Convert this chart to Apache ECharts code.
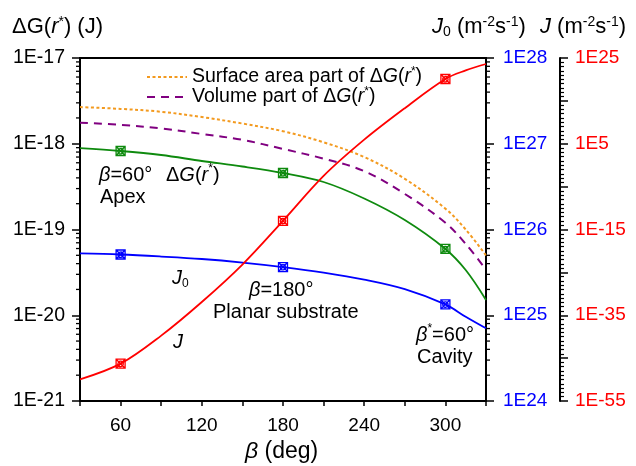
<!DOCTYPE html>
<html><head><meta charset="utf-8">
<script src="https://cdn.jsdelivr.net/npm/echarts@6/dist/echarts.min.js"></script>
<style>html,body{margin:0;padding:0;background:#fff}#c{width:636px;height:466px}</style>
</head><body><div id="c"></div>
<script>
// ---- data ----
const beta      = [30, 60, 90, 120, 150, 180, 210, 240, 270, 300, 315, 330];
const dG        = [8.87e-19, 8.23e-19, 7.39e-19, 6.29e-19, 5.43e-19, 4.56e-19, 3.58e-19, 2.30e-19, 1.29e-19, 5.93e-20, 3.37e-20, 1.51e-20];
const dGSurface = [2.68e-18, 2.55e-18, 2.36e-18, 2.05e-18, 1.72e-18, 1.40e-18, 1.04e-18, 7.0e-19, 3.9e-19, 1.75e-19, 1.0e-19, 5.0e-20];
const dGVolume  = [1.76e-18, 1.66e-18, 1.51e-18, 1.30e-18, 1.11e-18, 8.7e-19, 6.7e-19, 4.8e-19, 2.6e-19, 1.2e-19, 6.8e-20, 3.4e-20];
const J0        = [5.27e25, 5.11e25, 4.84e25, 4.53e25, 4.12e25, 3.65e25, 3.15e25, 2.61e25, 2.02e25, 1.34e25, 9.6e24, 7.04e24];
const J         = [1.1e-50, 5.1e-47, 1.8e-40, 1.26e-32, 6.8e-24, 1.07e-13, 3.2e-3, 8.9e5, 2.0e13, 1.26e20, 1.26e22, 4.0e23];
const markerBeta = [60, 180, 300];
const xTickLabels = [60, 120, 180, 240, 300];
const leftLabels  = ['1E-21', '1E-20', '1E-19', '1E-18', '1E-17'];
const blueLabels  = ['1E24', '1E25', '1E26', '1E27', '1E28'];
const redLabels   = ['1E-55', '1E-35', '1E-15', '1E5', '1E25'];

// ---- helpers ----
const F = 'Liberation Sans, Arial, sans-serif';
const J_SHIFT = 55; // red axis drawn as log10(J)+55 so ticks start at 1E-55
const pairs = (xs, ys, f) => xs.map((x, i) => [x, f(ys[i])]);
const lg = v => Math.log10(v);
const MARK = 'path://M0,0H10V10H0ZM0,0L10,10M10,0L0,10M8,5A3,3,0,1,1,7.99,4.9';
const symFn = v => markerBeta.indexOf(v[0]) >= 0 ? MARK : 'none';

function rich(fs, sfs, lh) {
  const b = {fontFamily: F, color: '#000', fontWeight: 'normal'};
  return {
    n:   Object.assign({}, b, {fontSize: fs, lineHeight: lh}),
    i:   Object.assign({}, b, {fontSize: fs, fontStyle: 'italic', lineHeight: lh}),
    sup: Object.assign({}, b, {fontSize: sfs, verticalAlign: 'top', lineHeight: sfs + 1}),
    sub: Object.assign({}, b, {fontSize: sfs, verticalAlign: 'bottom', lineHeight: sfs + 1})
  };
}
function T(text, left, top, fs, sfs) {
  fs = fs || 20; sfs = sfs || 12;
  return {text: text, left: left, top: top, padding: 0,
          textStyle: {fontWeight: 'normal', fontSize: fs, rich: rich(fs, sfs, 24)}};
}

// log-style minor tick positions (axis decoration)
const minorLeft = [], minorBlue = [];
for (let d = -21; d < -17; d++) for (let k = 2; k <= 9; k++) minorLeft.push([30, d + Math.log10(k)]);
for (let d = 24; d < 28; d++) for (let k = 2; k <= 9; k++) minorBlue.push([330, d + Math.log10(k)]);
function tickRenderer(dir) {
  return function (params, api) {
    const p = api.coord([api.value(0), api.value(1)]);
    return {type: 'line', shape: {x1: p[0], y1: p[1], x2: p[0] + dir * 4, y2: p[1]},
            style: {stroke: '#000', lineWidth: 1.3}};
  };
}

const nameSurf = 'Surface area part of ΔG(r*)';
const nameVol = 'Volume part of ΔG(r*)';
const legendText = {};
legendText[nameSurf] = '{n|Surface area part of Δ}{i|G}{n|(}{i|r}{sup|*}{n|)}';
legendText[nameVol] = '{n|Volume part of Δ}{i|G}{n|(}{i|r}{sup|*}{n|)}';

const axisLineStyle = {show: true, lineStyle: {color: '#000', width: 2}};

const option = {
  animation: false,
  backgroundColor: '#fff',
  title: [
    T('{n|Δ}{n|G(}{i|r}{sup|*}{n|) (J)}', 12, 15, 22, 14),
    T('{i|J}{sub|0}{n| (m}{sup|-2}{n|s}{sup|-1}{n|)}', 432, 15, 22, 14),
    T('{i|J}{n| (m}{sup|-2}{n|s}{sup|-1}{n|)}', 540, 15, 22, 14),
    T('{i|β}{n| (deg)}', 245, 440, 23, 14),
    T('{i|β}{n|=60°}', 99, 163),
    T('{n|Δ}{i|G}{n|(}{i|r}{sup|*}{n|)}', 166, 163),
    T('{n|Apex}', 100, 185),
    T('{i|J}{sub|0}', 172, 266),
    T('{i|β}{n|=180°}', 249, 278),
    T('{n|Planar substrate}', 213, 300),
    T('{i|J}', 173, 330),
    T('{i|β}{sup|*}{n|=60°}', 416, 323),
    T('{n|Cavity}', 417, 345)
  ],
  legend: {
    data: [nameSurf, nameVol],
    orient: 'vertical', left: 146, top: 66, padding: 0,
    itemWidth: 40, itemHeight: 14, itemGap: -1,
    itemStyle: {opacity: 0},
    formatter: n => legendText[n],
    textStyle: {fontWeight: 'normal', rich: rich(19.5, 12, 22)}
  },
  grid: {left: 80, right: 150, top: 58, bottom: 65, show: true, borderColor: '#000', borderWidth: 2, backgroundColor: 'transparent'},
  xAxis: {
    type: 'value', min: 30, max: 330, interval: 30,
    axisLine: axisLineStyle,
    axisTick: {show: true, length: 5, lineStyle: {color: '#000', width: 1.5}},
    axisLabel: {color: '#000', fontFamily: F, fontSize: 19, margin: 15,
      formatter: v => xTickLabels.indexOf(v) >= 0 ? String(v) : ''},
    splitLine: {show: false}
  },
  yAxis: [
    {
      type: 'value', min: -21, max: -17, interval: 1, position: 'left',
      axisLine: axisLineStyle,
      axisTick: {show: true, length: 8, lineStyle: {color: '#000', width: 1.5}},
      axisLabel: {color: '#000', fontFamily: F, fontSize: 19.5, margin: 15,
        formatter: v => leftLabels[Math.round(v) + 21]},
      splitLine: {show: false}
    },
    {
      type: 'value', min: 24, max: 28, interval: 1, position: 'right',
      axisLine: axisLineStyle,
      axisTick: {show: true, length: 8, lineStyle: {color: '#000', width: 1.5}},
      axisLabel: {color: '#0000FF', fontFamily: F, fontSize: 19, margin: 17,
        formatter: v => blueLabels[Math.round(v) - 24]},
      splitLine: {show: false}
    },
    {
      type: 'value', min: 0, max: 80, interval: 10, position: 'right', offset: 74,
      axisLine: axisLineStyle,
      axisTick: {show: true, length: 8, lineStyle: {color: '#000', width: 1.5}},
      minorTick: {show: true, splitNumber: 10, length: 4, lineStyle: {color: '#000', width: 1.2}},
      axisLabel: {color: '#FF0000', fontFamily: F, fontSize: 19, margin: 15,
        formatter: v => (Math.round(v) % 20 === 0) ? redLabels[Math.round(v) / 20] : ''},
      splitLine: {show: false}
    }
  ],
  series: [
    {name: nameSurf, type: 'line', yAxisIndex: 0, data: pairs(beta, dGSurface, lg), smooth: 0.35,
     symbol: 'none', lineStyle: {color: '#F39A1F', width: 2, type: [3, 2.5]}, itemStyle: {color: '#F39A1F'}, z: 3},
    {name: nameVol, type: 'line', yAxisIndex: 0, data: pairs(beta, dGVolume, lg), smooth: 0.35,
     symbol: 'none', lineStyle: {color: '#800080', width: 2, type: [8, 6]}, itemStyle: {color: '#800080'}, z: 3},
    {name: 'dG', type: 'line', yAxisIndex: 0, data: pairs(beta, dG, lg), smooth: 0.35,
     symbol: symFn, symbolSize: 9, showAllSymbol: true,
     lineStyle: {color: '#0E8A0E', width: 1.8},
     itemStyle: {color: 'rgba(0,0,0,0)', borderColor: '#0E8A0E', borderWidth: 1.3}, z: 4},
    {name: 'J0', type: 'line', yAxisIndex: 1, data: pairs(beta, J0, lg), smooth: 0.35,
     symbol: symFn, symbolSize: 9, showAllSymbol: true,
     lineStyle: {color: '#0000FF', width: 1.8},
     itemStyle: {color: 'rgba(0,0,0,0)', borderColor: '#0000FF', borderWidth: 1.3}, z: 4},
    {name: 'J', type: 'line', yAxisIndex: 2, data: pairs(beta, J, v => lg(v) + J_SHIFT), smooth: 0.35,
     symbol: symFn, symbolSize: 9, showAllSymbol: true,
     lineStyle: {color: '#FF0000', width: 1.8},
     itemStyle: {color: 'rgba(0,0,0,0)', borderColor: '#FF0000', borderWidth: 1.3}, z: 5},
    {name: 'minorLeft', type: 'custom', yAxisIndex: 0, data: minorLeft, renderItem: tickRenderer(-1), clip: false, silent: true, z: 6},
    {name: 'minorBlue', type: 'custom', yAxisIndex: 1, data: minorBlue, renderItem: tickRenderer(1), clip: false, silent: true, z: 6}
  ]
};
const chart = echarts.init(document.getElementById('c'), null, {renderer: 'canvas'});
chart.setOption(option);
</script></body></html>
